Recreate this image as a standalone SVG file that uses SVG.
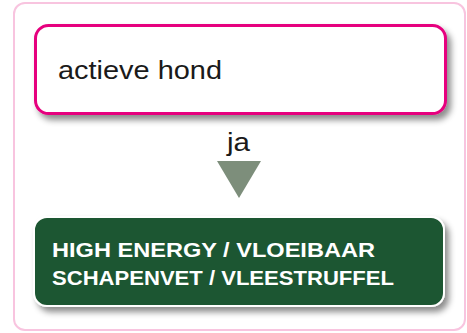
<svg xmlns="http://www.w3.org/2000/svg" width="467" height="333" viewBox="0 0 467 333">
  <defs>
    <filter id="shadow" x="-10%" y="-20%" width="125%" height="150%">
      <feDropShadow dx="4" dy="5" stdDeviation="3" flood-color="#000" flood-opacity="0.45"/>
    </filter>
    <style>
      .frame { fill: #ffffff; stroke: #f8c4df; stroke-width: 2; }
      .node-white { fill: #ffffff; stroke: #e6007e; stroke-width: 3; }
      .node-green { fill: #1f5632; stroke: #ffffff; stroke-width: 2; }
      .label { font-family: "Liberation Sans", Arial, sans-serif; fill: #1a1a1a; }
      .caps { font-family: "Liberation Sans", Arial, sans-serif; font-weight: bold; fill: #ffffff; }
    </style>
  </defs>
  <rect class="frame" x="14" y="3" width="451" height="327" rx="11"/>
  <g id="node-actieve-hond">
    <rect class="node-white" x="35.5" y="25.5" width="410" height="88" rx="13" filter="url(#shadow)"/>
    <text class="label" x="58" y="79" font-size="26" textLength="164" lengthAdjust="spacingAndGlyphs">actieve hond</text>
  </g>
  <g id="connectors">
    <text class="label" x="227" y="151" font-size="26" textLength="23" lengthAdjust="spacingAndGlyphs">ja</text>
    <polygon points="217,161 261,161 239,198" fill="#7d8e7b"/>
  </g>
  <g id="node-high-energy">
    <rect class="node-green" x="34" y="217" width="410" height="89" rx="13" filter="url(#shadow)"/>
    <text class="caps" x="52" y="256.5" font-size="20.5" textLength="323" lengthAdjust="spacingAndGlyphs">HIGH ENERGY / VLOEIBAAR</text>
    <text class="caps" x="52" y="284.5" font-size="20.5" textLength="342" lengthAdjust="spacingAndGlyphs">SCHAPENVET / VLEESTRUFFEL</text>
  </g>
</svg>
